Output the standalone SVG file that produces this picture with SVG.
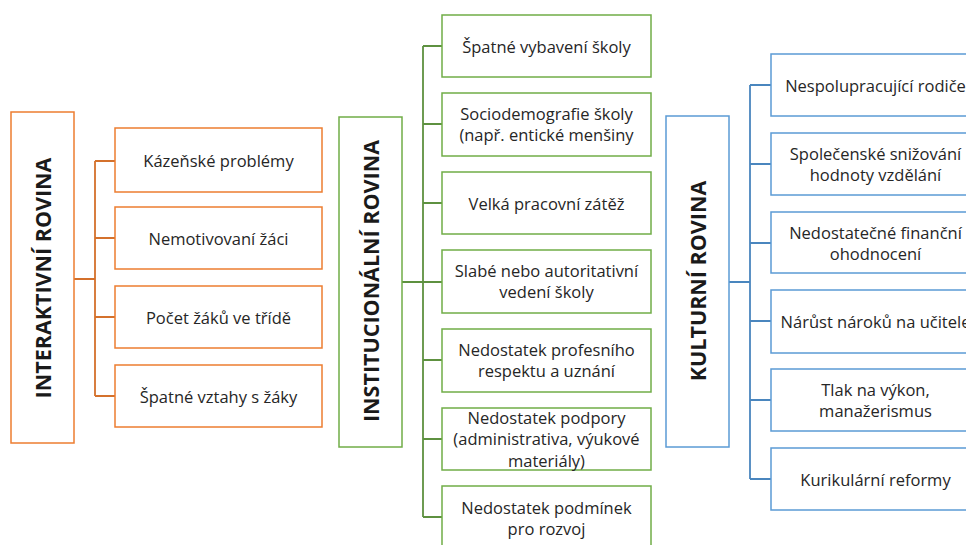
<svg xmlns="http://www.w3.org/2000/svg" width="966" height="545" viewBox="0 0 966 545">
<style>
.bg{fill:#fff}
.o{fill:#fff;stroke:#ED7D31;stroke-width:1.5}
.g{fill:#fff;stroke:#70AD47;stroke-width:1.5}
.b{fill:#fff;stroke:#5B9BD5;stroke-width:1.5}
.t{font-family:"Open Sans","Liberation Sans",sans-serif;font-size:16.5px;fill:#262626;text-anchor:middle;dominant-baseline:central}
.h{font-family:"Open Sans","Liberation Sans",sans-serif;font-size:21.5px;font-weight:bold;fill:#1a1a1a;text-anchor:middle;dominant-baseline:central}
.co{fill:none;stroke:#D4712C;stroke-width:1.8}
.cg{fill:none;stroke:#5E9140;stroke-width:1.8}
.cb{fill:none;stroke:#4A86BE;stroke-width:1.8}
</style>
<rect class="bg" width="966" height="545"/>
<g id="connectors">
<path class="co" d="M74 279H95M95 161V396M95 161H115M95 238H115M95 317H115M95 396H115"/>
<path class="co" d="M74 279H95" stroke-width="3"/>
<path class="cg" d="M402 282H423M423 46V517M423 46H442M423 124H442M423 203H442M423 282H442M423 360H442M423 439H442M423 517H442"/>
<path class="cg" d="M402 282H423" stroke-width="3"/>
<path class="cb" d="M729 282H750M750 85V479M750 85H771M750 164H771M750 243H771M750 321H771M750 400H771M750 479H771"/>
<path class="cb" d="M729 282H750" stroke-width="3"/>
</g>
<g id="interaktivni">
<rect class="o" x="11" y="112" width="63" height="331"/>
<text class="h" transform="translate(42.5 278) rotate(-90)">INTERAKTIVNÍ ROVINA</text>
</g>
<g id="i1"><rect class="o" x="115" y="128" width="207" height="64"/><text class="t" x="218.5" y="160">Kázeňské problémy</text></g>
<g id="i2"><rect class="o" x="115" y="207" width="207" height="62"/><text class="t" x="218.5" y="238">Nemotivovaní žáci</text></g>
<g id="i3"><rect class="o" x="115" y="286" width="207" height="62"/><text class="t" x="218.5" y="317">Počet žáků ve třídě</text></g>
<g id="i4"><rect class="o" x="115" y="365" width="207" height="62"/><text class="t" x="218.5" y="396">Špatné vztahy s žáky</text></g>
<g id="institucionalni">
<rect class="g" x="339" y="117" width="63" height="330"/>
<text class="h" transform="translate(370.5 281) rotate(-90)">INSTITUCIONÁLNÍ ROVINA</text>
</g>
<g id="n1"><rect class="g" x="442" y="15" width="209" height="62"/><text class="t" x="546.5" y="46">Špatné vybavení školy</text></g>
<g id="n2"><rect class="g" x="442" y="93" width="209" height="63"/><text class="t" x="546.5" y="113">Sociodemografie školy</text><text class="t" x="546.5" y="134">(např. entické menšiny</text></g>
<g id="n3"><rect class="g" x="442" y="172" width="209" height="62"/><text class="t" x="546.5" y="203">Velká pracovní zátěž</text></g>
<g id="n4"><rect class="g" x="442" y="250" width="209" height="63"/><text class="t" x="546.5" y="270">Slabé nebo autoritativní</text><text class="t" x="546.5" y="291">vedení školy</text></g>
<g id="n5"><rect class="g" x="442" y="329" width="209" height="63"/><text class="t" x="546.5" y="349">Nedostatek profesního</text><text class="t" x="546.5" y="370">respektu a uznání</text></g>
<g id="n6"><rect class="g" x="442" y="408" width="209" height="62"/><text class="t" x="546.5" y="417">Nedostatek podpory</text><text class="t" x="546.5" y="438">(administrativa, výukové</text><text class="t" x="546.5" y="460">materiály)</text></g>
<g id="n7"><rect class="g" x="442" y="486" width="209" height="63"/><text class="t" x="546.5" y="507">Nedostatek podmínek</text><text class="t" x="546.5" y="528">pro rozvoj</text></g>
<g id="kulturni">
<rect class="b" x="666" y="116" width="63" height="331"/>
<text class="h" transform="translate(697.5 281) rotate(-90)">KULTURNÍ ROVINA</text>
</g>
<g id="k1"><rect class="b" x="771" y="54" width="209" height="62"/><text class="t" x="875.5" y="85">Nespolupracující rodiče</text></g>
<g id="k2"><rect class="b" x="771" y="133" width="209" height="62"/><text class="t" x="875.5" y="153">Společenské snižování</text><text class="t" x="875.5" y="174">hodnoty vzdělání</text></g>
<g id="k3"><rect class="b" x="771" y="212" width="209" height="61"/><text class="t" x="875.5" y="232">Nedostatečné finanční</text><text class="t" x="875.5" y="253">ohodnocení</text></g>
<g id="k4"><rect class="b" x="771" y="290" width="209" height="63"/><text class="t" x="875.5" y="321">Nárůst nároků na učitele</text></g>
<g id="k5"><rect class="b" x="771" y="369" width="209" height="62"/><text class="t" x="875.5" y="389">Tlak na výkon,</text><text class="t" x="875.5" y="410">manažerismus</text></g>
<g id="k6"><rect class="b" x="771" y="448" width="209" height="62"/><text class="t" x="875.5" y="479">Kurikulární reformy</text></g>
</svg>
